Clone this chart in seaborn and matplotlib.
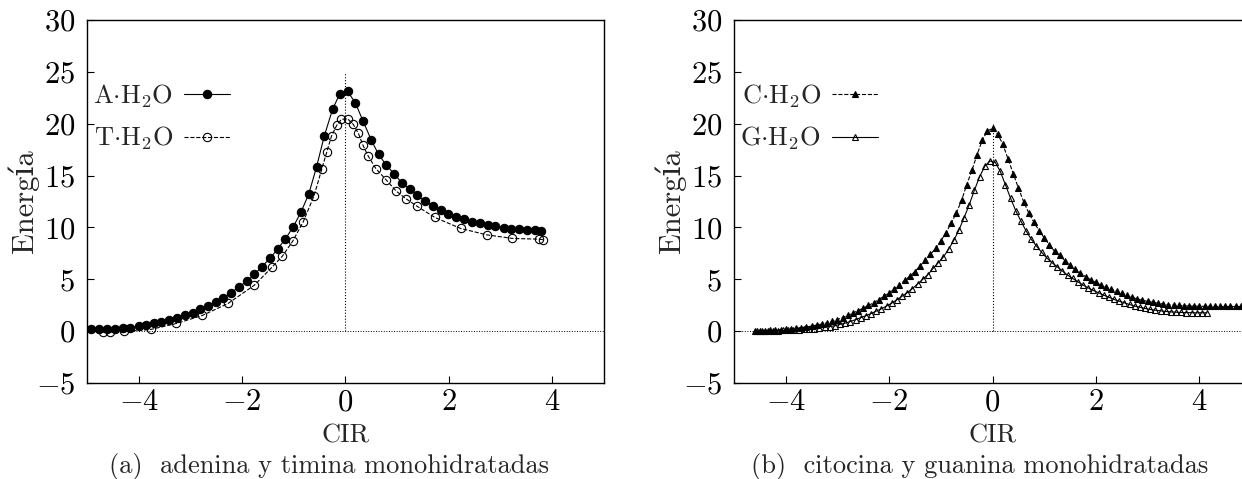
import numpy as np
import pandas as pd
import matplotlib
matplotlib.use("Agg")
import matplotlib.pyplot as plt
import seaborn as sns

# ---------------------------------------------------------------------------
# datos (CIR vs energia)
# ---------------------------------------------------------------------------
# (a) adenina
cir_A = [-4.92, -4.77, -4.62, -4.46, -4.31, -4.16, -4.00, -3.85, -3.70, -3.56,
         -3.41, -3.25, -3.10, -2.95, -2.81, -2.66, -2.51, -2.37, -2.21, -2.06,
         -1.91, -1.76, -1.62, -1.46, -1.31, -1.16, -1.01, -0.86, -0.71, -0.56,
         -0.41, -0.25, -0.11, 0.04, 0.19, 0.34, 0.50, 0.64, 0.79, 0.94,
         1.09, 1.25, 1.39, 1.54, 1.69, 1.85, 1.98, 2.14, 2.29, 2.44,
         2.60, 2.75, 2.90, 3.06, 3.21, 3.36, 3.51, 3.67, 3.79]
ene_A = [0.16, 0.16, 0.16, 0.23, 0.29, 0.35, 0.48, 0.61, 0.74, 0.87,
         1.03, 1.29, 1.51, 1.77, 2.09, 2.41, 2.80, 3.22, 3.70, 4.28,
         4.79, 5.47, 6.21, 7.01, 7.94, 8.91, 10.06, 11.48, 13.22, 15.82,
         18.81, 21.38, 22.89, 23.12, 22.03, 20.26, 18.42, 17.04, 16.01, 15.18,
         14.31, 13.67, 13.09, 12.54, 12.06, 11.67, 11.32, 11.03, 10.77, 10.55,
         10.39, 10.23, 10.10, 9.97, 9.87, 9.81, 9.74, 9.71, 9.68]

# (a) timina
cir_T = [-4.69, -4.56, -4.28, -3.77, -3.27, -2.77, -2.27, -1.76, -1.42, -1.22,
         -1.02, -0.82, -0.61, -0.46, -0.36, -0.27, -0.17, -0.08, 0.04, 0.15,
         0.25, 0.34, 0.44, 0.59, 0.79, 0.98, 1.17, 1.38, 1.73, 2.23,
         2.73, 3.23, 3.75, 3.83]
ene_T = [-0.10, -0.10, -0.03, 0.16, 0.74, 1.51, 2.67, 4.44, 6.17, 7.23,
         8.68, 10.51, 13.02, 15.59, 17.30, 18.81, 19.84, 20.42, 20.48, 19.94,
         19.07, 17.91, 16.88, 15.66, 14.57, 13.51, 12.77, 12.06, 10.96, 9.90,
         9.29, 8.94, 8.87, 8.81]

# (b) citocina
cir_C = [-4.6, -4.5, -4.4, -4.3, -4.2, -4.1, -4.0, -3.9, -3.8, -3.7,
         -3.6, -3.5, -3.4, -3.3, -3.2, -3.1, -3.0, -2.9, -2.8, -2.7,
         -2.6, -2.5, -2.4, -2.3, -2.2, -2.1, -2.0, -1.9, -1.8, -1.7,
         -1.6, -1.5, -1.4, -1.3, -1.2, -1.1, -1.0, -0.9, -0.8, -0.7,
         -0.6, -0.5, -0.4, -0.3, -0.2, -0.1, 0.0, 0.1, 0.2, 0.3,
         0.4, 0.5, 0.6, 0.7, 0.8, 0.9, 1.0, 1.1, 1.2, 1.3,
         1.4, 1.5, 1.6, 1.7, 1.8, 1.9, 2.0, 2.1, 2.2, 2.3,
         2.4, 2.5, 2.6, 2.7, 2.8, 2.9, 3.0, 3.1, 3.2, 3.3,
         3.4, 3.5, 3.6, 3.7, 3.8, 3.9, 4.0, 4.1, 4.2, 4.3,
         4.4, 4.5, 4.6, 4.7, 4.8, 4.9]
ene_C = [0.02, 0.04, 0.06, 0.08, 0.11, 0.14, 0.17, 0.21, 0.26, 0.33,
         0.40, 0.49, 0.59, 0.69, 0.80, 0.95, 1.12, 1.31, 1.51, 1.75,
         1.99, 2.22, 2.48, 2.74, 3.05, 3.40, 3.72, 4.10, 4.45, 4.90,
         5.30, 5.75, 6.30, 6.85, 7.40, 8.00, 8.70, 9.50, 10.40, 11.40,
         12.60, 14.10, 15.50, 17.00, 18.40, 19.30, 19.55, 19.00, 18.00, 16.60,
         15.20, 13.80, 12.50, 11.40, 10.50, 9.70, 9.00, 8.30, 7.70, 7.30,
         6.80, 6.35, 5.95, 5.60, 5.25, 4.95, 4.70, 4.45, 4.25, 4.05,
         3.85, 3.65, 3.45, 3.25, 3.10, 2.97, 2.87, 2.78, 2.69, 2.61,
         2.55, 2.51, 2.48, 2.45, 2.42, 2.41, 2.40, 2.39, 2.39, 2.38,
         2.38, 2.38, 2.38, 2.38, 2.38, 2.38]

# (b) guanina
cir_G = [-4.55, -4.45, -4.35, -4.25, -4.15, -4.05, -3.95, -3.85, -3.75, -3.65,
         -3.55, -3.45, -3.35, -3.25, -3.15, -3.05, -2.95, -2.85, -2.75, -2.65,
         -2.55, -2.45, -2.35, -2.25, -2.15, -2.05, -1.95, -1.85, -1.75, -1.65,
         -1.55, -1.45, -1.35, -1.25, -1.15, -1.05, -0.95, -0.85, -0.75, -0.65,
         -0.55, -0.45, -0.35, -0.25, -0.15, -0.05, 0.05, 0.15, 0.25, 0.35,
         0.45, 0.55, 0.65, 0.75, 0.85, 0.95, 1.05, 1.15, 1.25, 1.35,
         1.45, 1.55, 1.65, 1.75, 1.85, 1.95, 2.05, 2.15, 2.25, 2.35,
         2.45, 2.55, 2.65, 2.75, 2.85, 2.95, 3.05, 3.15, 3.25, 3.35,
         3.45, 3.55, 3.65, 3.75, 3.85, 3.95, 4.05, 4.15]
ene_G = [0.00, 0.01, 0.02, 0.03, 0.05, 0.07, 0.09, 0.12, 0.15, 0.18,
         0.21, 0.25, 0.30, 0.37, 0.44, 0.52, 0.65, 0.78, 0.93, 1.11,
         1.30, 1.49, 1.70, 1.93, 2.15, 2.43, 2.70, 3.02, 3.37, 3.70,
         4.10, 4.55, 5.00, 5.45, 6.05, 6.60, 7.15, 7.90, 8.75, 9.75,
         10.95, 12.20, 13.60, 14.90, 15.90, 16.40, 16.30, 15.40, 14.10, 12.80,
         11.60, 10.60, 9.65, 8.85, 8.20, 7.60, 7.05, 6.60, 6.20, 5.80,
         5.40, 5.08, 4.76, 4.45, 4.17, 3.92, 3.70, 3.47, 3.27, 3.06,
         2.89, 2.73, 2.57, 2.42, 2.31, 2.19, 2.09, 2.02, 1.96, 1.90,
         1.86, 1.83, 1.80, 1.79, 1.78, 1.77, 1.77, 1.77]

# textos
labels_a = [r"A$\cdot$H$_2$O", r"T$\cdot$H$_2$O"]
labels_b = [r"C$\cdot$H$_2$O", r"G$\cdot$H$_2$O"]
captions = ["(a)  adenina y timina monohidratadas",
            "(b)  citocina y guanina monohidratadas"]
x_ticks = [-4, -2, 0, 2, 4]
y_ticks = [-5, 0, 5, 10, 15, 20, 25, 30]
vline_top = [25, 20]   # altura de la linea vertical punteada en CIR = 0

# ---------------------------------------------------------------------------
# estilo (tipo LaTeX / gnuplot)
# ---------------------------------------------------------------------------
sns.set_style("ticks")
plt.rcParams['font.family'] = ['cmr10', 'DejaVu Serif']
plt.rcParams['mathtext.fontset'] = 'cm'
plt.rcParams['axes.formatter.use_mathtext'] = True
plt.rcParams['axes.unicode_minus'] = True
plt.rcParams['axes.linewidth'] = 1.0
plt.rcParams['axes.edgecolor'] = 'black'
plt.rcParams['xtick.direction'] = 'in'
plt.rcParams['ytick.direction'] = 'in'
plt.rcParams['xtick.color'] = 'black'
plt.rcParams['ytick.color'] = 'black'

FS_TICK = 22
FS_LAB = 22
FS_LEG = 19

fig = plt.figure(figsize=(12.42, 4.79), dpi=100)
ax_a = fig.add_axes([0.0700, 0.2004, 0.4163, 0.7578])
ax_b = fig.add_axes([0.5910, 0.2004, 0.4163, 0.7578])


def draw_series(ax, x, y, marker, ls, filled, ms, label):
    sns.lineplot(x=x, y=y, ax=ax, color='black', linewidth=0.8, linestyle=ls,
                 marker=marker, markersize=ms,
                 markerfacecolor='black' if filled else 'none',
                 markeredgecolor='black', markeredgewidth=0.8,
                 estimator=None, sort=False, label=label, zorder=3)


draw_series(ax_a, cir_A, ene_A, 'o', '-', True, 6.0, labels_a[0])
draw_series(ax_a, cir_T, ene_T, 'o', '--', False, 6.0, labels_a[1])
draw_series(ax_b, cir_C, ene_C, '^', '--', True, 4.0, labels_b[0])
draw_series(ax_b, cir_G, ene_G, '^', '-', False, 4.4, labels_b[1])

for ax, top, cap, cx in zip([ax_a, ax_b], vline_top, captions, [0.2650, 0.7885]):
    ax.axhline(0, color='black', linestyle=':', linewidth=0.7, zorder=1)
    ax.vlines(0, 0, top, color='black', linestyle=':', linewidth=0.8, zorder=1)
    ax.set_xlim(-5, 5)
    ax.set_ylim(-5, 30)
    ax.set_xticks(x_ticks)
    ax.set_yticks(y_ticks)
    ax.tick_params(axis='both', labelsize=FS_TICK, length=5, width=0.8)
    ax.tick_params(axis='x', pad=4)
    ax.tick_params(axis='y', pad=8.5)
    ax.set_xlabel("CIR", fontsize=FS_LEG, va='center')
    ax.xaxis.set_label_coords(0.5, -0.146)
    ax.set_ylabel("Energía", fontsize=FS_LAB, va='center')
    ax.yaxis.set_label_coords(-0.124, 0.5)
    for s in ax.spines.values():
        s.set_visible(True)
        s.set_color('black')
    ax.legend(loc='upper left', bbox_to_anchor=(0.012, 0.828),
              frameon=False, fontsize=FS_LEG, markerfirst=False,
              handlelength=1.75, handletextpad=0.4, labelspacing=0.57,
              borderpad=0, borderaxespad=0, numpoints=1)
    fig.text(cx, 1 - 466 / 479, cap, fontsize=FS_LEG, ha='center', va='center')

fig.savefig("out.png", dpi=100)
